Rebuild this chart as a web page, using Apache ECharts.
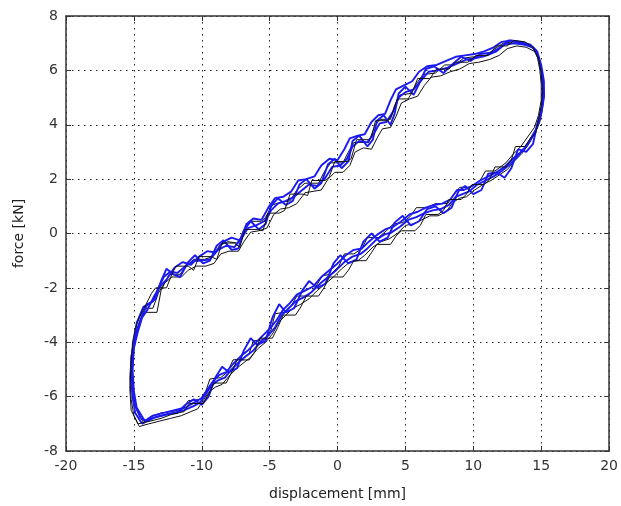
<!DOCTYPE html>
<html>
<head>
<meta charset="utf-8">
<script src="https://cdn.jsdelivr.net/npm/echarts@6/dist/echarts.min.js"></script>
<style>
html,body{margin:0;padding:0;background:#fff;}
#c{width:621px;height:506px;}
</style>
</head>
<body>
<div id="c"></div>
<script>
// Axis ticks
const xTicks = [-20, -15, -10, -5, 0, 5, 10, 15, 20];
const yTicks = [-8, -6, -4, -2, 0, 2, 4, 6, 8];

// Measured cycles: [displacement mm, force kN]
const blueCycleA = [
[-14.4,-7.0],[-14.9,-6.6],[-15.1,-6.0],[-15.2,-5.2],[-15.1,-4.4],[-14.9,-3.8],[-14.6,-3.3],[-14.3,-2.9],[-14.0,-2.6],[-13.6,-2.5],[-13.2,-2.0],[-12.8,-1.6],[-12.3,-1.4],[-11.8,-1.45],[-11.2,-1.2],[-10.6,-1.0],[-10.0,-1.0],[-9.4,-0.95],[-8.8,-0.6],[-8.2,-0.45],[-7.6,-0.5],[-7.1,-0.2],[-6.6,0.2],[-6.0,0.3],[-5.4,0.45],[-4.9,0.85],[-4.4,1.1],[-3.8,1.2],[-3.2,1.35],[-2.6,1.6],[-2.1,1.8],[-1.5,1.75],[-0.9,2.05],[-0.4,2.45],[0.2,2.5],[0.7,2.75],[1.1,3.2],[1.6,3.4],[2.2,3.35],[2.7,3.7],[3.1,4.05],[3.6,4.1],[4.1,4.5],[4.5,5.0],[5.0,5.2],[5.6,5.3],[6.2,5.65],[6.7,5.95],[7.4,6.0],[8.1,6.1],[8.8,6.25],[9.5,6.4],[10.2,6.45],[11.0,6.55],[11.7,6.7],[12.3,6.95],[13.0,7.0],[13.7,6.95],[14.4,6.85],[14.8,6.5],[15.0,6.0],[15.1,5.4],[15.1,4.8],[14.9,4.3],
[14.6,3.8],[14.2,3.45],[13.7,3.1],[13.2,2.8],[12.7,2.55],[12.1,2.3],[11.5,2.1],[10.9,1.95],[10.3,1.8],[9.7,1.55],[9.2,1.45],[8.7,1.35],[8.2,1.05],[7.6,0.9],[7.0,0.85],[6.4,0.75],[5.8,0.6],[5.2,0.5],[4.6,0.25],[4.0,0.05],[3.4,-0.05],[2.8,-0.25],[2.2,-0.55],[1.7,-0.75],[1.1,-0.85],[0.5,-1.05],[-0.1,-1.35],[-0.7,-1.6],[-1.3,-1.85],[-1.9,-2.15],[-2.5,-2.35],[-3.1,-2.5],[-3.6,-2.75],[-4.1,-3.0],[-4.6,-3.45],[-5.1,-3.75],[-5.7,-4.0],[-6.2,-4.3],[-6.7,-4.5],[-7.2,-4.7],[-7.8,-5.0],[-8.3,-5.3],[-8.8,-5.4],[-9.3,-5.6],[-9.7,-5.9],[-10.1,-6.2],[-10.6,-6.35],[-11.3,-6.5],[-12.1,-6.6],[-12.9,-6.7],[-13.7,-6.8],[-14.4,-7.0]
];
const blueCycleB = [
[-14.2,-6.9],[-14.8,-6.4],[-15.0,-5.8],[-15.1,-5.0],[-15.0,-4.2],[-14.7,-3.6],[-14.4,-3.1],[-14.0,-2.8],[-13.5,-2.3],[-13.0,-1.9],[-12.6,-1.7],[-12.0,-1.25],[-11.4,-1.05],[-10.8,-1.15],[-10.2,-0.85],[-9.6,-0.65],[-9.0,-0.7],[-8.4,-0.3],[-7.8,-0.15],[-7.2,-0.25],[-6.7,0.35],[-6.2,0.55],[-5.6,0.5],[-5.1,0.95],[-4.6,1.3],[-4.0,1.35],[-3.4,1.55],[-2.9,1.95],[-2.3,2.0],[-1.7,2.1],[-1.2,2.5],[-0.6,2.75],[0.0,2.7],[0.5,3.1],[0.9,3.5],[1.5,3.6],[2.0,3.65],[2.5,4.1],[3.0,4.35],[3.5,4.4],[3.9,4.9],[4.3,5.3],[4.9,5.45],[5.5,5.6],[6.0,5.95],[6.6,6.15],[7.3,6.2],[8.0,6.35],[8.7,6.5],[9.4,6.55],[10.1,6.6],[10.8,6.7],[11.5,6.85],[12.1,7.05],[12.8,7.1],[13.5,7.05],[14.2,6.95],[14.7,6.7],[15.0,6.2],[15.2,5.6],[15.2,5.0],[15.0,4.4],
[14.7,3.9],[14.3,3.55],[13.9,3.2],[13.4,2.95],[12.9,2.75],[12.3,2.45],[11.7,2.25],[11.1,2.1],[10.5,1.95],[9.9,1.75],[9.3,1.6],[8.8,1.6],[8.3,1.25],[7.7,1.1],[7.1,1.05],[6.5,0.95],[5.9,0.8],[5.3,0.7],[4.7,0.45],[4.1,0.25],[3.5,0.15],[2.9,-0.05],[2.3,-0.3],[1.8,-0.55],[1.2,-0.6],[0.6,-0.8],[0.0,-1.1],[-0.6,-1.35],[-1.2,-1.6],[-1.8,-1.95],[-2.4,-2.1],[-3.0,-2.25],[-3.5,-2.55],[-4.0,-2.8],[-4.5,-3.2],[-5.0,-3.5],[-5.6,-3.8],[-6.1,-4.05],[-6.6,-4.3],[-7.1,-4.5],[-7.7,-4.8],[-8.2,-5.1],[-8.7,-5.2],[-9.2,-5.45],[-9.6,-5.75],[-10.0,-6.05],[-10.5,-6.2],[-11.2,-6.4],[-12.0,-6.5],[-12.8,-6.6],[-13.6,-6.7],[-14.2,-6.9]
];
const blueCycleE = [
[-14.5,-6.8],[-15.0,-6.2],[-15.2,-5.4],[-15.2,-4.6],[-15.0,-4.0],[-14.8,-3.3],[-14.3,-2.7],[-13.9,-2.6],[-13.4,-2.4],[-13.0,-1.75],[-12.6,-1.3],[-12.1,-1.5],[-11.6,-1.6],[-11.0,-1.05],[-10.5,-0.8],[-9.9,-1.1],[-9.4,-1.0],[-8.9,-0.45],[-8.4,-0.25],[-7.8,-0.6],[-7.3,-0.55],[-6.9,0.1],[-6.4,0.45],[-5.8,0.15],[-5.3,0.35],[-4.9,1.0],[-4.4,1.3],[-3.8,1.05],[-3.3,1.2],[-2.8,1.8],[-2.3,2.0],[-1.7,1.65],[-1.2,1.85],[-0.7,2.55],[-0.2,2.75],[0.3,2.4],[0.8,2.65],[1.1,3.4],[1.6,3.6],[2.2,3.2],[2.6,3.45],[2.9,4.15],[3.4,4.35],[3.9,4.0],[4.2,4.4],[4.5,5.15],[5.0,5.4],[5.6,5.1],[6.0,5.5],[6.5,6.05],[7.1,6.15],[7.8,5.9],[8.4,6.2],[9.1,6.5],[9.8,6.35],[10.5,6.6],[11.3,6.65],[12.0,6.85],[12.6,7.1],[13.3,7.05],[14.0,6.95],[14.6,6.75],[14.9,6.3],[15.1,5.7],[15.2,5.1],[15.0,4.5],
[14.7,4.0],[14.4,3.3],[13.9,3.0],[13.3,3.1],[12.8,2.4],[12.3,2.05],[11.7,2.25],[11.1,2.2],[10.6,1.6],[10.0,1.45],[9.4,1.75],[8.9,1.55],[8.4,0.95],[7.8,0.75],[7.2,1.0],[6.6,0.9],[6.0,0.45],[5.4,0.3],[4.8,0.65],[4.2,0.4],[3.7,-0.15],[3.1,-0.3],[2.5,0.0],[1.9,-0.3],[1.4,-0.95],[0.8,-1.1],[0.2,-0.8],[-0.3,-1.1],[-0.9,-1.85],[-1.5,-2.0],[-2.1,-1.75],[-2.6,-2.1],[-3.2,-2.75],[-3.8,-2.9],[-4.3,-2.6],[-4.8,-3.1],[-5.3,-3.95],[-5.9,-4.1],[-6.4,-3.85],[-6.9,-4.3],[-7.4,-4.95],[-8.0,-5.1],[-8.5,-4.9],[-9.0,-5.3],[-9.5,-6.0],[-10.0,-6.3],[-10.6,-6.1],[-11.2,-6.3],[-11.8,-6.6],[-12.6,-6.65],[-13.4,-6.75],[-14.0,-6.9],[-14.5,-6.8]
];
const blackCycleC = [
[-14.6,-7.1],[-15.0,-6.7],[-15.2,-6.1],[-15.3,-5.3],[-15.2,-4.5],[-15.0,-3.9],[-14.7,-3.4],[-14.4,-3.0],[-14.1,-2.75],[-13.6,-2.75],[-13.2,-2.2],[-12.8,-1.85],[-12.2,-1.6],[-11.5,-1.6],[-11.0,-1.35],[-10.4,-1.2],[-9.7,-1.2],[-9.1,-1.1],[-8.6,-0.75],[-8.0,-0.65],[-7.3,-0.65],[-6.9,-0.3],[-6.4,0.05],[-5.8,0.1],[-5.2,0.2],[-4.7,0.7],[-4.2,0.9],[-3.6,0.95],[-3.0,1.1],[-2.4,1.5],[-1.8,1.55],[-1.2,1.6],[-0.7,2.0],[-0.2,2.25],[0.4,2.25],[0.9,2.5],[1.3,3.0],[1.9,3.15],[2.5,3.1],[2.9,3.5],[3.3,3.85],[3.9,3.9],[4.3,4.3],[4.7,4.8],[5.3,4.95],[5.9,5.05],[6.4,5.45],[6.9,5.75],[7.6,5.8],[8.3,5.95],[9.0,6.05],[9.7,6.25],[10.4,6.3],[11.2,6.4],[11.9,6.55],[12.5,6.8],[13.2,6.9],[13.9,6.85],[14.5,6.7],[14.9,6.3],[15.1,5.8],[15.2,5.2],[15.1,4.6],[14.9,4.1],
[14.5,3.65],[14.1,3.3],[13.6,2.95],[13.0,2.65],[12.5,2.35],[11.9,2.15],[11.3,1.95],[10.7,1.8],[10.1,1.6],[9.5,1.35],[9.0,1.3],[8.5,1.15],[8.0,0.8],[7.4,0.65],[6.8,0.65],[6.2,0.5],[5.6,0.35],[5.0,0.3],[4.4,0.0],[3.8,-0.2],[3.2,-0.3],[2.6,-0.5],[2.0,-0.8],[1.5,-1.0],[0.9,-1.05],[0.3,-1.3],[-0.3,-1.6],[-0.9,-1.85],[-1.5,-2.1],[-2.1,-2.4],[-2.7,-2.6],[-3.3,-2.75],[-3.8,-3.0],[-4.3,-3.25],[-4.8,-3.7],[-5.3,-4.0],[-5.9,-4.25],[-6.4,-4.55],[-6.9,-4.75],[-7.4,-4.95],[-8.0,-5.25],[-8.5,-5.55],[-9.0,-5.65],[-9.5,-5.85],[-9.9,-6.15],[-10.3,-6.45],[-10.8,-6.55],[-11.5,-6.7],[-12.3,-6.8],[-13.1,-6.9],[-13.9,-7.0],[-14.6,-7.1]
];
const blackCycleD = [
[-14.3,-6.95],[-14.8,-6.5],[-15.1,-5.9],[-15.1,-5.1],[-15.0,-4.3],[-14.8,-3.7],[-14.5,-3.2],[-14.2,-2.9],[-13.3,-2.9],[-13.0,-2.1],[-12.4,-1.5],[-11.6,-1.5],[-11.3,-1.3],[-10.6,-0.95],[-9.8,-0.95],[-9.2,-0.85],[-8.7,-0.45],[-8.1,-0.3],[-7.4,-0.35],[-7.0,-0.05],[-6.5,0.45],[-5.6,0.45],[-5.3,0.6],[-4.8,1.05],[-4.2,1.15],[-3.5,1.2],[-3.0,1.6],[-2.4,1.85],[-1.4,1.85],[-1.0,2.25],[-0.5,2.6],[0.4,2.6],[0.8,3.0],[1.2,3.35],[2.3,3.35],[2.7,3.9],[3.1,4.2],[3.9,4.2],[4.2,4.7],[4.6,5.1],[5.4,5.15],[5.8,5.5],[6.3,5.85],[7.2,5.9],[7.9,6.2],[8.6,6.2],[9.3,6.45],[10.0,6.5],[10.8,6.5],[11.6,6.8],[12.2,7.0],[12.9,7.05],[13.6,7.0],[14.3,6.9],[14.7,6.55],[14.9,6.0],[15.0,5.5],[15.0,4.9],[14.8,4.35],
[14.5,3.9],[14.0,3.55],[13.5,3.2],[12.9,2.9],[12.4,2.6],[11.6,2.3],[10.9,2.3],[10.5,1.95],[9.8,1.7],[9.0,1.7],[8.6,1.45],[8.1,1.1],[7.2,1.1],[6.6,0.95],[5.8,0.95],[5.4,0.65],[4.8,0.4],[4.1,0.35],[3.6,0.1],[3.0,-0.15],[2.2,-0.15],[1.8,-0.55],[1.2,-0.75],[0.5,-0.75],[0.1,-1.2],[-0.5,-1.5],[-1.1,-1.55],[-1.6,-1.95],[-2.2,-2.3],[-3.0,-2.3],[-3.4,-2.65],[-3.9,-2.9],[-4.6,-2.95],[-4.9,-3.55],[-5.4,-3.9],[-6.2,-3.95],[-6.5,-4.4],[-7.0,-4.6],[-7.7,-4.65],[-8.1,-5.1],[-8.6,-5.3],[-9.4,-5.35],[-9.7,-5.8],[-10.1,-6.1],[-11.0,-6.15],[-11.4,-6.45],[-12.2,-6.55],[-13.0,-6.6],[-13.8,-6.75],[-14.3,-6.95]
];
const blackCycleF = [
[-14.7,-7.0],[-15.2,-6.5],[-15.3,-5.7],[-15.2,-4.8],[-15.1,-4.0],[-14.9,-3.5],[-14.6,-3.1],[-14.2,-2.7],[-13.7,-2.2],[-13.4,-2.0],[-12.6,-2.0],[-12.2,-1.5],[-11.9,-1.2],[-11.0,-1.2],[-10.6,-1.35],[-10.2,-0.85],[-9.3,-0.85],[-8.9,-0.95],[-8.5,-0.35],[-7.6,-0.35],[-7.2,-0.5],[-6.8,0.15],[-5.9,0.15],[-5.5,0.1],[-5.1,0.75],[-4.3,0.75],[-3.9,0.85],[-3.5,1.45],[-2.6,1.45],[-2.2,1.4],[-1.9,1.95],[-0.9,1.95],[-0.6,2.1],[-0.2,2.65],[0.7,2.65],[1.0,2.75],[1.4,3.45],[2.3,3.45],[2.5,3.55],[2.8,4.15],[3.7,4.15],[4.0,4.35],[4.4,4.95],[5.2,4.95],[5.5,5.2],[5.9,5.7],[6.8,5.7],[7.3,6.05],[8.2,6.05],[8.7,6.3],[9.6,6.3],[10.2,6.55],[11.1,6.55],[11.7,6.9],[12.5,6.9],[13.0,7.1],[13.8,7.05],[14.4,6.85],[14.8,6.45],[15.0,5.9],[15.1,5.3],[15.0,4.7],[14.8,4.2],
[14.6,3.7],[14.2,3.5],[13.8,3.2],[13.1,3.2],[12.8,2.7],[12.4,2.45],[11.6,2.45],[11.2,2.0],[10.8,1.8],[9.9,1.8],[9.5,1.45],[9.1,1.25],[8.2,1.25],[7.8,0.85],[7.4,0.7],[6.5,0.7],[6.1,0.3],[5.7,0.1],[4.7,0.1],[4.3,-0.1],[3.9,-0.4],[2.9,-0.4],[2.5,-0.7],[2.1,-1.0],[1.2,-1.0],[0.8,-1.35],[0.4,-1.6],[-0.6,-1.6],[-1.0,-2.0],[-1.4,-2.3],[-2.3,-2.3],[-2.7,-2.7],[-3.1,-3.0],[-4.0,-3.0],[-4.4,-3.45],[-4.8,-3.85],[-5.7,-3.85],[-6.1,-4.35],[-6.5,-4.65],[-7.4,-4.65],[-7.8,-5.1],[-8.2,-5.5],[-9.1,-5.5],[-9.5,-5.9],[-9.9,-6.25],[-10.9,-6.25],[-11.3,-6.55],[-12.2,-6.65],[-13.0,-6.8],[-13.8,-6.9],[-14.7,-7.0]
];

const xLabel = 'displacement [mm]';
const yLabel = 'force [kN]';

const chart = echarts.init(document.getElementById('c'), null, {renderer: 'canvas'});
const FONT = 'DejaVu Sans';
const gridLine = {show: true, lineStyle: {color: '#222', width: 1, type: [1.5, 4.5]}};
function baseX(pos, labels) {
  return {
    type: 'value', min: xTicks[0], max: xTicks[xTicks.length - 1], interval: 5,
    position: pos,
    axisLine: {show: true, onZero: false, lineStyle: {color: '#333', width: 1.5}},
    axisTick: {show: true, inside: true, length: 5, lineStyle: {color: '#333'}},
    axisLabel: {show: labels, color: '#333', fontSize: 14, fontFamily: FONT, margin: 8},
    splitLine: labels ? gridLine : {show: false}
  };
}
function baseY(pos, labels) {
  return {
    type: 'value', min: yTicks[0], max: yTicks[yTicks.length - 1], interval: 2,
    position: pos,
    axisLine: {show: true, onZero: false, lineStyle: {color: '#333', width: 1.5}},
    axisTick: {show: true, inside: true, length: 5, lineStyle: {color: '#333'}},
    axisLabel: {show: labels, color: '#333', fontSize: 14, fontFamily: FONT, margin: 8},
    splitLine: labels ? gridLine : {show: false}
  };
}
const xMain = baseX('bottom', true);
xMain.name = xLabel; xMain.nameLocation = 'middle'; xMain.nameGap = 36;
xMain.nameTextStyle = {color: '#222', fontSize: 14, fontFamily: FONT};
const yMain = baseY('left', true);
yMain.name = yLabel; yMain.nameLocation = 'middle'; yMain.nameGap = 40;
yMain.nameTextStyle = {color: '#222', fontSize: 14, fontFamily: FONT};

function loopSeries(data, color, width) {
  return {type: 'line', data: data, showSymbol: false, symbol: 'none', smooth: false,
    lineStyle: {color: color, width: width}, animation: false, xAxisIndex: 0, yAxisIndex: 0};
}

chart.setOption({
  animation: false,
  backgroundColor: '#fff',
  grid: {left: 66, right: 8, top: 16, bottom: 55, containLabel: false},
  xAxis: [xMain, baseX('top', false)],
  yAxis: [yMain, baseY('right', false)],
  series: [
    loopSeries(blackCycleC, '#111', 1),
    loopSeries(blackCycleD, '#111', 1),
    loopSeries(blueCycleA, '#1a1af0', 1.9),
    loopSeries(blueCycleB, '#1a1af0', 1.9),
    loopSeries(blueCycleE, '#1a1af0', 1.9),
    loopSeries(blackCycleF, '#111', 1)
  ]
});
</script>
</body>
</html>
